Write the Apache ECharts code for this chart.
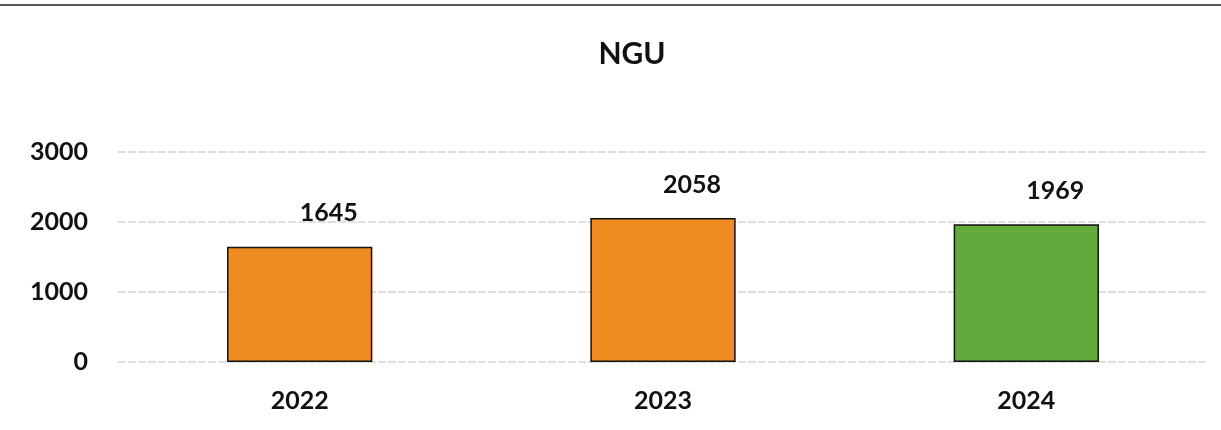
<!DOCTYPE html>
<html>
<head>
<meta charset="utf-8">
<script src="https://cdn.jsdelivr.net/npm/echarts@6/dist/echarts.min.js"></script>
<style>
  html, body { margin: 0; padding: 0; background: #fff; }
  #chart { width: 1221px; height: 430px; }
</style>
</head>
<body>
<div id="chart"></div>
<script>
const years = ['2022', '2023', '2024'];
const counts = [1645, 2058, 1969];
const barColors = ['#ee8c22', '#ee8c22', '#62aa3c'];
const yTicks = [0, 1000, 2000, 3000];

const FONT = 'Lato, "Open Sans", sans-serif';

const chart = echarts.init(document.getElementById('chart'));
chart.setOption({
  backgroundColor: '#ffffff',
  animation: false,
  title: {
    text: 'NGU',
    left: 627,
    top: 34,
    textAlign: 'center',
    textStyle: { fontFamily: FONT, fontWeight: 'bold', fontSize: 30, color: '#111' }
  },
  graphic: [
    {
      type: 'line',
      shape: { x1: 0, y1: 5, x2: 1221, y2: 5 },
      style: { stroke: '#555', lineWidth: 2 }
    }
  ],
  grid: { left: 118, right: 13, top: 152, bottom: 68 },
  xAxis: {
    type: 'category',
    data: years,
    axisLine: { show: false },
    axisTick: { show: false },
    axisLabel: { margin: 26, fontFamily: FONT, fontWeight: 'bold', fontSize: 25, color: '#111' }
  },
  yAxis: {
    type: 'value',
    min: yTicks[0],
    max: yTicks[yTicks.length - 1],
    interval: 1000,
    axisLine: { show: false },
    axisTick: { show: false },
    axisLabel: {
      margin: 30,
      formatter: (v) => String(v),
      fontFamily: FONT,
      fontWeight: 'bold',
      fontSize: 25,
      color: '#111'
    },
    splitLine: { lineStyle: { color: '#d4d4d4', width: 1.5, type: [8, 2] } }
  },
  series: [
    {
      type: 'bar',
      barWidth: '40%',
      data: counts.map((v, i) => ({
        value: v,
        itemStyle: { color: barColors[i], borderColor: '#111', borderWidth: 1.5 }
      })),
      label: {
        show: true,
        position: 'top',
        distance: 5,
        offset: [29, -16],
        fontFamily: FONT,
        fontWeight: 'bold',
        fontSize: 25,
        color: '#111'
      }
    }
  ]
});
</script>
</body>
</html>
